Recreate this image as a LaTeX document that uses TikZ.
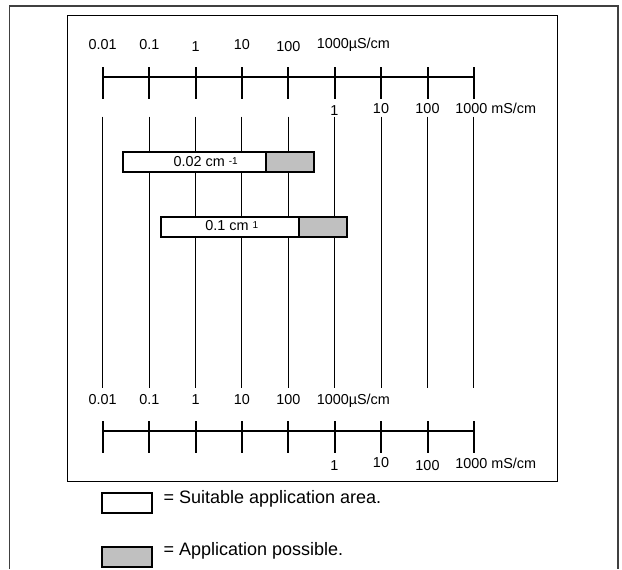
\documentclass[tikz,border=0pt]{standalone}
\usepackage{fontspec}
\setmainfont{Liberation Sans}
\definecolor{possible}{HTML}{C0C0C0}
\newcommand{\smallsup}[1]{{\fontsize{7.5}{8}\selectfont\raisebox{1.5pt}{#1}}}
\begin{document}
\begin{tikzpicture}
  [x=0.75pt,y=-0.75pt,every node/.style={inner sep=0pt,font=\fontsize{10.8}{12}\selectfont}]
  \tikzstyle{axis} = [line width=1.5pt]
  \tikzstyle{grid} = [line width=0.75pt]
  \tikzstyle{bar} = [draw,line width=1.4pt,fill=white,outer sep=0pt,minimum height=15pt]
  \tikzstyle{legend} = [font=\fontsize{13.5}{15}\selectfont,anchor=base west]
  \useasboundingbox (0,0) rectangle (622,569);
  % frames
  \draw[line width=1pt,black!75] (9.5,569) -- (9.5,6) -- (618,6) -- (618,569);
  \draw[grid] (67.5,15.5) rectangle (557.5,481);
  % guide lines
  \foreach \i [evaluate=\i as \x using 102.7+46.4*\i] in {0,...,8}
    \draw[grid] (\x,116.7) -- (\x,388);
  % the two scales
  \foreach \y in {77.3,431} {
    \draw[axis] (102.7,\y) -- (474,\y);
    \foreach \i [evaluate=\i as \x using 102.7+46.4*\i] in {0,...,8}
      \draw[axis] (\x,\y-10) -- (\x,\y+22);
  }
  % scale labels
  \foreach \name/\x/\y/\txt in {ua/102.7/49.5/0.01,ub/149.3/49.5/0.1,uc/195.7/51.5/1,
      ud/242/49.5/10,ue/288.3/51.5/100,
      va/334.3/115.7/1,vb/381/113.3/10,vc/427.5/113.3/100,
      la/102.7/404/0.01,lb/149.3/404/0.1,lc/195.7/404/1,
      ld/242/404/10,le/288.3/404/100,
      ma/334.3/470/1,mb/381/467.7/10,mc/427.5/470.7/100}
    \node[anchor=base] (\name) at (\x,\y) {\txt};
  \node[anchor=base west] (uf) at (316.5,48.5) {1000\textmu S/cm};
  \node[anchor=base west] (lf) at (316.5,404) {1000\textmu S/cm};
  \node[anchor=base west] (vd) at (455,113.3) {1000 mS/cm};
  \node[anchor=base west] (md) at (455,468.3) {1000 mS/cm};
  % cell constants
  \node[bar,minimum width=106.8pt] (suit1) at (194.5,162) {};
  \node[bar,fill=possible,minimum width=36pt,anchor=west] (poss1) at (suit1.east) {};
  \node[anchor=base] (cell1) at (205.7,166.5) {0.02 cm \smallsup{-1}};
  \node[bar,minimum width=103.7pt] (suit2) at (229.85,226.7) {};
  \node[bar,fill=possible,minimum width=36pt,anchor=west] (poss2) at (suit2.east) {};
  \node[anchor=base] (cell2) at (231.7,230.3) {0.1 cm \smallsup{1}};
  % legend
  \node[bar,minimum width=37pt] (keysuit) at (127,503.3) {};
  \node[legend] (txtsuit) at (163.3,503) {= Suitable application area.};
  \node[bar,fill=possible,minimum width=37pt] (keyposs) at (127,557.3) {};
  \node[legend] (txtposs) at (163.3,555.5) {= Application possible.};
\end{tikzpicture}
\end{document}
